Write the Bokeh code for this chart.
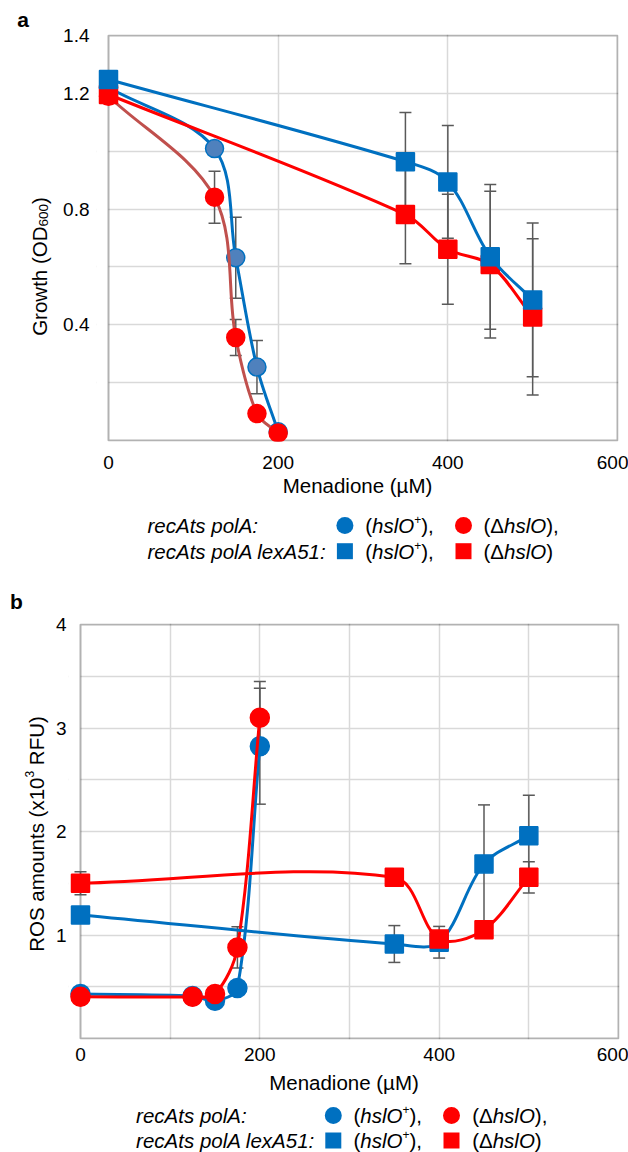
import math
from bokeh.plotting import figure
from bokeh.models import (Range1d, FixedTicker, Label, Whisker, TeeHead, ColumnDataSource,
                          BoxAnnotation)
from bokeh.layouts import column, row
from bokeh.embed import file_html
from bokeh.resources import INLINE

# ---------------- data: panel a (growth) ----------------
a_conc_circ = [0, 125, 150, 175, 200]
a_conc_sq = [0, 350, 400, 450, 500]
a_blue_circ = [1.22, 1.009, 0.632, 0.254, 0.03]
a_blue_circ_err = [0, 0, 0.14, 0.092, 0]
a_red_circ = [1.19, 0.841, 0.356, 0.093, 0.026]
a_red_circ_err = [0, 0.09, 0.062, 0, 0]
a_blue_sq = [1.248, 0.964, 0.894, 0.635, 0.486]
a_blue_sq_err = [0, 0.17, 0.195, 0.25, 0.266]
a_red_sq = [1.196, 0.781, 0.661, 0.608, 0.427]
a_red_sq_err = [0, 0.17, 0.19, 0.254, 0.27]
a_x_lim = (0, 600)
a_y_lim = (0, 1.4)
a_x_ticks = [0, 200, 400, 600]
a_y_ticks = [0.4, 0.8, 1.2, 1.4]
a_x_grid = [200, 400]
a_y_grid = [0.2, 0.4, 0.6, 0.8, 1.0, 1.2]

# ---------------- data: panel b (ROS) ----------------
b_conc_circ = [0, 125, 150, 175, 200]
b_conc_sq = [0, 350, 400, 450, 500]
b_blue_circ = [0.43, 0.41, 0.365, 0.487, 2.824]
b_blue_circ_err = [0, 0, 0, 0, 0.56]
b_red_circ = [0.403, 0.403, 0.43, 0.88, 3.099]
b_red_circ_err = [0, 0, 0, 0.2, 0.35]
b_blue_sq = [1.193, 0.913, 0.93, 1.687, 1.96]
b_blue_sq_err = [0.08, 0.178, 0.153, 0.57, 0.39]
b_red_sq = [1.5, 1.557, 0.961, 1.051, 1.557]
b_red_sq_err = [0.11, 0, 0, 0, 0.15]
b_x_lim = (0, 600)
b_y_lim = (0, 4)
b_x_ticks = [0, 200, 400, 600]
b_y_ticks = [1, 2, 3, 4]
b_x_grid = [100, 200, 300, 400, 500]
b_y_grid = [0.5, 1, 1.5, 2, 2.5, 3, 3.5]

FONT = "Liberation Sans"
BLUE = "#0070C0"
RED = "#FF0000"
BROWN = "#C0504D"
LIGHTBLUE = "#4F81BD"
ERR = "#595959"
GRID = "#D9D9D9"
S = 20.5  # title / legend text size (px)

# Arial / Liberation Sans advance widths (per 1000 em)
W = {"(": 333, ")": 333, ",": 278, ":": 278, " ": 278, "+": 584, "\u0394": 668,
     "h": 556, "s": 500, "l": 222, "O": 778, "G": 778, "r": 333, "o": 556,
     "w": 722, "t": 278, "D": 722, "R": 722, "S": 667, "a": 556, "m": 833,
     "u": 556, "n": 556, "x": 500, "F": 611, "U": 722}


def tw(s, size):
    return sum(W.get(c, 556) for c in s) / 1000.0 * size


def smooth(xs, ys, sx, sy):
    """Bezier segments (Excel-like smoothed line) through the data points.
    sx, sy: pixels per data unit, so tangents are weighted by on-screen distances."""
    n = len(xs)

    def dist(i, j):
        return math.hypot((xs[j] - xs[i]) * sx, (ys[j] - ys[i]) * sy)

    d = dict(x0=[], y0=[], x1=[], y1=[], cx0=[], cy0=[], cx1=[], cy1=[])
    for i in range(n - 1):
        j = i + 1
        a = max(i - 1, 0)
        b = min(j + 1, n - 1)
        d0, d1 = dist(a, i), dist(i, j)
        f = d1 / (d0 + d1) / 3.0 if d0 + d1 > 0 else 0.0
        e0, e1 = dist(i, j), dist(j, b)
        g = e0 / (e0 + e1) / 3.0 if e0 + e1 > 0 else 0.0
        d["x0"].append(xs[i]); d["y0"].append(ys[i])
        d["x1"].append(xs[j]); d["y1"].append(ys[j])
        d["cx0"].append(xs[i] + (xs[j] - xs[a]) * f)
        d["cy0"].append(ys[i] + (ys[j] - ys[a]) * f)
        d["cx1"].append(xs[j] - (xs[b] - xs[i]) * g)
        d["cy1"].append(ys[j] - (ys[b] - ys[i]) * g)
    return ColumnDataSource(d)


def add_err(p, xs, ys, errs):
    base = [x for x, e in zip(xs, errs) if e > 0]
    lo = [y - e for y, e in zip(ys, errs) if e > 0]
    hi = [y + e for y, e in zip(ys, errs) if e > 0]
    src = ColumnDataSource(dict(base=base, lower=lo, upper=hi))
    w = Whisker(source=src, base="base", lower="lower", upper="upper", dimension="height",
                line_color=ERR, line_width=1.5, level="underlay",
                upper_head=TeeHead(size=12, line_color=ERR, line_width=1.5),
                lower_head=TeeHead(size=12, line_color=ERR, line_width=1.5))
    p.add_layout(w)


def add_series(p, xs, ys, sx, sy, line_color, marker, fill, outline, size):
    p.bezier(x0="x0", y0="y0", x1="x1", y1="y1", cx0="cx0", cy0="cy0", cx1="cx1", cy1="cy1",
             source=smooth(xs, ys, sx, sy), line_color=line_color, line_width=3)
    p.scatter(x=xs, y=ys, marker=marker, size=size, fill_color=fill, line_color=outline,
              line_width=1.5)


def make_fig(w, h, plot_left, plot_w, plot_top, plot_h, xlim, ylim, pad_left=12, pad=1):
    """Plot box of plot_w x plot_h px at (plot_left, plot_top) inside a w x h figure.
    The frame is padded (12 px on the left) so that markers sitting on the left
    border are not cut, the border itself is drawn as a box at the data limits."""
    sx = plot_w / float(xlim[1] - xlim[0])
    sy = plot_h / float(ylim[1] - ylim[0])
    xr = Range1d(xlim[0] - pad_left / sx, xlim[1] + pad / sx)
    yr = Range1d(ylim[0] - pad / sy, ylim[1] + pad / sy)
    left = plot_left - pad_left
    right = w - left - (plot_w + pad_left + pad)
    top = plot_top - pad
    bottom = h - top - (plot_h + 2 * pad)
    p = figure(width=w, height=h, min_border_left=left, min_border_right=right,
               min_border_top=top, min_border_bottom=bottom,
               x_range=xr, y_range=yr, frame_align=False,
               output_backend="svg", toolbar_location=None)
    p.background_fill_color = "white"
    p.border_fill_color = "white"
    p.outline_line_color = None
    for ax in (p.xaxis[0], p.yaxis[0]):
        ax.axis_line_color = None
        ax.major_tick_line_color = None
        ax.minor_tick_line_color = None
        ax.major_tick_out = 0
        ax.major_tick_in = 0
        ax.major_label_text_font = FONT
        ax.major_label_text_font_size = "19px"
        ax.major_label_text_color = "black"
        ax.axis_label_text_font = FONT
        ax.axis_label_text_font_size = f"{S}px"
        ax.axis_label_text_font_style = "normal"
        ax.axis_label_text_color = "black"
    p.grid.grid_line_color = GRID
    p.grid.grid_line_width = 1.5
    # hide grid in the left padding, then draw the plot-area border
    p.add_layout(BoxAnnotation(left=xr.start, right=xlim[0], fill_color="white", fill_alpha=1.0,
                               line_color=None, level="underlay"))
    p.add_layout(BoxAnnotation(left=xlim[0], right=xlim[1], bottom=ylim[0], top=ylim[1],
                               fill_color=None, fill_alpha=0, line_color="black",
                               line_width=2, level="underlay"))
    return p, sx, sy


def blank_fig(w, h):
    """Text-only strip: 1 data unit = 1 pixel, y measured upwards."""
    p = figure(width=w, height=h, x_range=Range1d(0, w), y_range=Range1d(0, h),
               x_axis_type=None, y_axis_type=None, min_border=0, frame_align=False,
               output_backend="svg", toolbar_location=None)
    p.outline_line_color = None
    p.background_fill_color = "white"
    p.border_fill_color = "white"
    return p


def pieces(p, x, y, parts, angle=0.0):
    """Run of text pieces (text, size, style, shift) set one after another."""
    for text, size, style, shift in parts:
        if text.strip():
            lx, ly = (x, y + shift) if angle == 0.0 else (x + shift, y)
            p.add_layout(Label(x=lx, y=ly, text=text, text_font=FONT,
                               text_font_size=f"{size}px", text_font_style=style,
                               text_color="black", text_align="left",
                               text_baseline="middle", angle=angle))
        if angle == 0.0:
            x += tw(text, size)
        else:
            y += tw(text, size)


def panel_letter(p, x, y, letter):
    p.add_layout(Label(x=x, y=y, text=letter, text_font=FONT, text_font_size="21px",
                       text_font_style="bold", text_align="center", text_baseline="middle",
                       text_color="black"))


def legend(p, x_text, x_m1, x_t1, x_m2, x_t2, y1, y2):
    pieces(p, x_text, y1, [("recAts polA:", S, "italic", 0)])
    pieces(p, x_text, y2, [("recAts polA lexA51:", S, "italic", 0)])
    p.scatter(x=[x_m1, x_m2], y=[y1, y1], marker="circle", size=17,
              fill_color=[BLUE, RED], line_color=None)
    p.scatter(x=[x_m1, x_m2], y=[y2, y2], marker="square", size=16,
              fill_color=[BLUE, RED], line_color=None)
    plus = [("(", S, "normal", 0), ("hslO", S, "italic", 0), ("+", 12, "normal", 6)]
    pieces(p, x_t1, y1, plus + [("),", S, "normal", 0)])
    pieces(p, x_t1, y2, plus + [("),", S, "normal", 0)])
    pieces(p, x_t2, y1, [("(\u0394", S, "normal", 0), ("hslO", S, "italic", 0), ("),", S, "normal", 0)])
    pieces(p, x_t2, y2, [("(\u0394", S, "normal", 0), ("hslO", S, "italic", 0), (")", S, "normal", 0)])


# ================= panel a =================
# plot box: x 52..561 inside a 572-wide figure (page x 108..617), y 35..440
pa, SXA, SYA = make_fig(572, 504, 52, 509, 35, 405, a_x_lim, a_y_lim)
pa.xaxis.ticker = FixedTicker(ticks=a_x_ticks)
pa.yaxis.ticker = FixedTicker(ticks=a_y_ticks)
pa.xgrid.ticker = FixedTicker(ticks=a_x_grid)
pa.ygrid.ticker = FixedTicker(ticks=a_y_grid)
pa.xaxis.axis_label = "Menadione (\u00B5M)"
pa.xaxis.major_label_standoff = 14
pa.xaxis.axis_label_standoff = 2
pa.yaxis.major_label_standoff = 7

add_err(pa, a_conc_circ, a_blue_circ, a_blue_circ_err)
add_err(pa, a_conc_circ, a_red_circ, a_red_circ_err)
add_err(pa, a_conc_sq, a_blue_sq, a_blue_sq_err)
add_err(pa, a_conc_sq, a_red_sq, a_red_sq_err)
add_series(pa, a_conc_circ, a_blue_circ, SXA, SYA, BLUE, "circle", LIGHTBLUE, BLUE, 18)
add_series(pa, a_conc_circ, a_red_circ, SXA, SYA, BROWN, "circle", RED, RED, 18)
add_series(pa, a_conc_sq, a_red_sq, SXA, SYA, RED, "square", RED, RED, 18)
add_series(pa, a_conc_sq, a_blue_sq, SXA, SYA, BLUE, "square", BLUE, BLUE, 18)

# left strip of panel a: letter + y title (with subscript)
sa = blank_fig(56, 504)
panel_letter(sa, 22.5, 485, "a")
ya_parts = [("Growth (OD", S, "normal", 0), ("600", 13.5, "normal", 4), (")", S, "normal", 0)]
ya_len = sum(tw(t, s) for t, s, _, _ in ya_parts)
pieces(sa, 39, 238 - ya_len / 2, ya_parts, angle=math.pi / 2)

# legend of panel a
la = blank_fig(628, 76)
legend(la, 147, 344.4, 364.7, 463, 483, 55, 29.3)

# ================= panel b =================
# plot box: page x 80..618, y 624..1038
pb, SXB, SYB = make_fig(578, 520, 30, 538, 44, 414, b_x_lim, b_y_lim)
pb.xaxis.ticker = FixedTicker(ticks=b_x_ticks)
pb.yaxis.ticker = FixedTicker(ticks=b_y_ticks)
pb.xgrid.ticker = FixedTicker(ticks=b_x_grid)
pb.ygrid.ticker = FixedTicker(ticks=b_y_grid)
pb.xaxis.axis_label = "Menadione (\u00B5M)"
pb.xaxis.major_label_standoff = 8
pb.xaxis.axis_label_standoff = 7
pb.yaxis.major_label_standoff = 2

add_err(pb, b_conc_circ, b_blue_circ, b_blue_circ_err)
add_err(pb, b_conc_circ, b_red_circ, b_red_circ_err)
add_err(pb, b_conc_sq, b_blue_sq, b_blue_sq_err)
add_err(pb, b_conc_sq, b_red_sq, b_red_sq_err)
add_series(pb, b_conc_circ, b_blue_circ, SXB, SYB, BLUE, "circle", BLUE, BLUE, 19)
add_series(pb, b_conc_circ, b_red_circ, SXB, SYB, RED, "circle", RED, RED, 19)
add_series(pb, b_conc_sq, b_blue_sq, SXB, SYB, BLUE, "square", BLUE, BLUE, 18)
add_series(pb, b_conc_sq, b_red_sq, SXB, SYB, RED, "square", RED, RED, 18)

sb = blank_fig(50, 520)
panel_letter(sb, 16, 499.5, "b")
yb_parts = [("ROS amounts (x10", S, "normal", 0), ("3", 12, "normal", -7),
            (" ", S, "normal", 0), ("RFU)", S, "normal", 0)]
yb_len = sum(tw(t, s) for t, s, _, _ in yb_parts)
pieces(sb, 36, 266.5 - yb_len / 2, yb_parts, angle=math.pi / 2)

lb = blank_fig(628, 52)
legend(lb, 135.6, 332.8, 353, 451, 471.7, 37, 12)

layout = column(row(sa, pa), la, row(sb, pb), lb)
open("out.html", "w").write(file_html(layout, INLINE))
